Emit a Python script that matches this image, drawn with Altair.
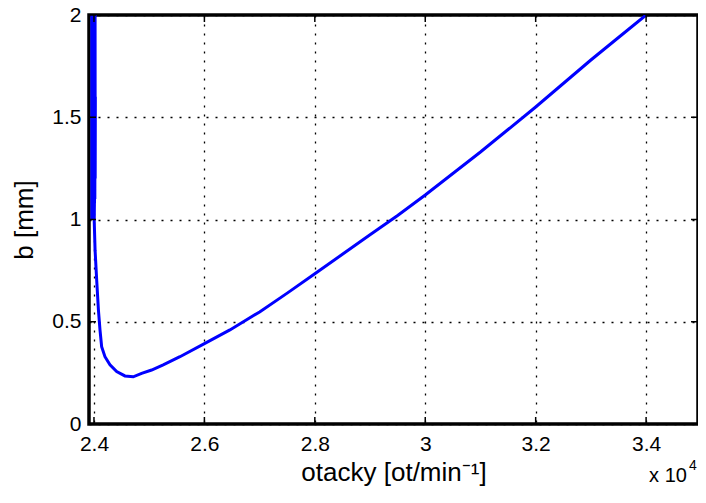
import altair as alt
import pandas as pd

# rpm values in units of 10^4 and the corresponding b [mm]
# (the first part is the dense oscillation next to the left edge)
rpm = [2.3960, 2.3962, 2.3966, 2.3968, 2.3972, 2.3974, 2.3978, 2.3980, 2.3984, 2.3986,
       2.3990, 2.3992, 2.3996, 2.3998, 2.4002, 2.4004, 2.4008, 2.4010, 2.4014, 2.4016,
       2.4020, 2.4022, 2.4025,
       2.4005, 2.4020, 2.4050, 2.4080, 2.4109, 2.4139, 2.4199, 2.4290, 2.4411, 2.4561,
       2.4711, 2.4863, 2.5044, 2.5254, 2.5557, 2.6009, 2.6462, 2.7000, 2.7500, 2.8000,
       2.8500, 2.9000, 2.9500, 3.0000, 3.0500, 3.1000, 3.1500, 3.2000, 3.2500, 3.3000,
       3.3500, 3.4000]
b_mm = [2.05, 1.00, 2.05, 1.00, 2.05, 1.00, 2.05, 1.00, 2.05, 1.00,
        2.05, 1.02, 2.05, 1.02, 2.05, 1.05, 2.05, 1.08, 2.05, 1.10,
        2.05, 1.20, 1.60,
        0.99, 0.85, 0.70, 0.56, 0.46, 0.378, 0.329, 0.289, 0.256, 0.235,
        0.231, 0.248, 0.264, 0.289, 0.329, 0.394, 0.460, 0.548, 0.640, 0.735,
        0.830, 0.925, 1.020, 1.120, 1.225, 1.330, 1.440, 1.550, 1.665, 1.780,
        1.890, 2.000]

x_ticks = [2.4, 2.6, 2.8, 3.0, 3.2, 3.4]
y_ticks = [0, 0.5, 1, 1.5, 2]
x_domain = [2.391, 3.494]
y_domain = [0, 2]

W, H = 609, 409
FONT = "Liberation Sans"

curve = pd.DataFrame({"i": list(range(len(rpm))), "rpm": rpm, "b": b_mm})
xt = pd.DataFrame({"v": x_ticks})
yt = pd.DataFrame({"v": y_ticks})

xs = alt.Scale(domain=x_domain, nice=False, zero=False)
ys = alt.Scale(domain=y_domain, nice=False, zero=False)

xaxis = alt.Axis(values=x_ticks, format="~g", grid=True, ticks=False, domain=False,
                 title="otacky [ot/min⁻¹]", labelPadding=9, titlePadding=5)
yaxis = alt.Axis(values=y_ticks, format="~g", grid=True, ticks=False, domain=False,
                 title="b [mm]", labelPadding=8, titlePadding=14)

line = alt.Chart(curve).mark_line(color="#0000ff", strokeWidth=3, clip=True).encode(
    x=alt.X("rpm:Q", scale=xs, axis=xaxis),
    y=alt.Y("b:Q", scale=ys, axis=yaxis),
    order=alt.Order("i:Q"),
)

tick_len = 7
bot = alt.Chart(xt).mark_rule(color="black", strokeWidth=1.5).encode(
    x=alt.X("v:Q", scale=xs), y=alt.value(H), y2=alt.value(H - tick_len))
top = alt.Chart(xt).mark_rule(color="black", strokeWidth=1.5).encode(
    x=alt.X("v:Q", scale=xs), y=alt.value(0), y2=alt.value(tick_len))
left = alt.Chart(yt).mark_rule(color="black", strokeWidth=1.5).encode(
    y=alt.Y("v:Q", scale=ys), x=alt.value(0), x2=alt.value(tick_len))
right = alt.Chart(yt).mark_rule(color="black", strokeWidth=1.5).encode(
    y=alt.Y("v:Q", scale=ys), x=alt.value(W - tick_len), x2=alt.value(W))

exp_base = alt.Chart(pd.DataFrame({"t": ["x 10"]})).mark_text(
    font=FONT, fontSize=20, color="black", align="center", baseline="middle"
).encode(text="t:N", x=alt.value(579), y=alt.value(461))
exp_pow = alt.Chart(pd.DataFrame({"t": ["4"]})).mark_text(
    font=FONT, fontSize=14, color="black", align="center", baseline="middle"
).encode(text="t:N", x=alt.value(604), y=alt.value(451))

chart = alt.layer(line, bot, top, left, right, exp_base, exp_pow).properties(
    width=W, height=H,
    autosize=alt.AutoSizeParams(type="none"),
    padding={"left": 81, "top": 7, "right": 0, "bottom": 63},
    background="white",
).configure_view(
    stroke="black", strokeWidth=3.5
).configure_axis(
    gridColor="black", gridDash=[2, 7], gridWidth=1.3, gridOpacity=1,
    labelFont=FONT, labelFontSize=21, labelColor="black",
    titleFont=FONT, titleFontSize=26, titleColor="black", titleFontWeight="normal",
)

chart.save("out.html", embed_options={"renderer": "svg", "actions": False})
